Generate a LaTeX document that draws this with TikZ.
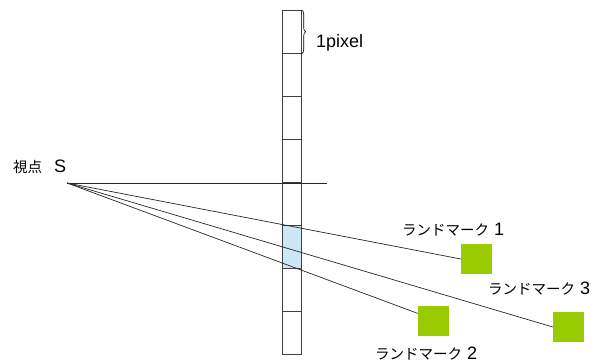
\documentclass[tikz,border=0pt]{standalone}
\usepackage{fontspec}
\setmainfont{Liberation Sans}
\newfontfamily\jp{Noto Sans CJK JP}
\usetikzlibrary{decorations.pathreplacing,calc}
\definecolor{lmgreen}{HTML}{99CC00}
\definecolor{cellblue}{HTML}{CCE8F8}
\newcommand{\jpt}{\jp\fontsize{14.5}{16}\selectfont}
\tikzset{
  cellbox/.style={draw=black!75, line width=0.7pt, minimum width=19pt, minimum height=43pt, inner sep=0pt, anchor=north west},
  landmark/.style={fill=lmgreen, minimum width=31pt, minimum height=30pt, inner sep=0pt},
  ray/.style={draw=black!85, line width=0.7pt},
  lbl/.style={inner sep=0pt, anchor=west, font=\fontsize{18}{20}\selectfont},
}
\begin{document}
\begin{tikzpicture}[x=1pt,y=-1pt]
\useasboundingbox (0,0) rectangle (597,364);
\foreach \i in {1,...,8} {
  \node[cellbox] (cell\i) at (282,{10+43*(\i-1)}) {};
}
\fill[cellblue] (cell6.north west) rectangle (cell6.south east);
\draw[black!75, line width=0.7pt] (cell6.north west) rectangle (cell6.south east);
\draw[decorate, decoration={brace, amplitude=4pt}, line width=0.6pt] (cell1.north east) -- (cell1.south east);
\node[lbl] (px) at (316,43) {1pixel};
\coordinate (S) at (67,183);
\coordinate (H) at (327,183);
\node[lbl] (Slbl) at (13,167) {{\jpt 視点}\hspace{12pt}S};
\node[landmark] (lm1) at (476.5,259) {};
\node[landmark] (lm2) at (433.5,321) {};
\node[landmark] (lm3) at (568.5,327) {};
\node[lbl] (t1) at (402,230) {{\jpt ランドマーク} 1};
\node[lbl] (t3) at (488,289) {{\jpt ランドマーク} 3};
\node[lbl] (t2) at (375,354) {{\jpt ランドマーク} 2};
\draw[ray] (S) -- (H);
\draw[ray] (S) -- (lm1.west);
\draw[ray] (S) -- (lm3.west);
\draw[ray] (S) -- ($(lm2.north west)!0.25!(lm2.south west)$);
\end{tikzpicture}
\end{document}
